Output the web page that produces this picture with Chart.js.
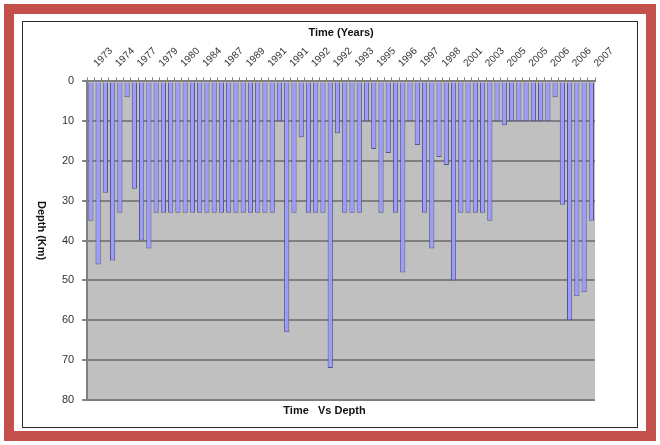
<!DOCTYPE html>
<html>
<head>
<meta charset="utf-8">
<script src="https://cdn.jsdelivr.net/npm/chart.js@4.4.0/dist/chart.umd.min.js"></script>
<style>
    html, body { margin: 0; padding: 0; background: #ffffff; }
    #page { position: relative; width: 660px; height: 445px; overflow: hidden; }
    #redFrame {
        position: absolute; left: 4px; top: 4px; width: 632px; height: 417px;
        border: 10px solid #c4504c;
    }
    #blackFrame {
        position: absolute; left: 22px; top: 21px; width: 614px; height: 405px;
        border: 1px solid #2a2a2a;
    }
    #chartBox { position: absolute; left: 0; top: 0; width: 660px; height: 445px; }
</style>
</head>
<body>
<div id="page">
    <div id="redFrame"></div>
    <div id="blackFrame"></div>
    <div id="chartBox"><canvas id="depthChart"></canvas></div>
</div>
<script>
// Year labels shown on the top axis (one every third event)
const tickYears = ['1973', '1974', '1977', '1979', '1980', '1984', '1987', '1989',
    '1991', '1991', '1992', '1992', '1993', '1995', '1996', '1997', '1998', '2001',
    '2003', '2005', '2005', '2006', '2006', '2007'];

// Depth of each event (Km)
const depths = [
    35, 46, 28, 45, 33, 4, 27, 40, 42, 33,
    33, 33, 33, 33, 33, 33, 33, 33, 33, 33,
    33, 33, 33, 33, 33, 33, 10, 63, 33, 14,
    33, 33, 33, 72, 13, 33, 33, 33, 10, 17,
    33, 18, 33, 48, 10, 16, 33, 42, 19, 21,
    50, 33, 33, 33, 33, 35, 10, 11, 10, 10,
    10, 10, 10, 10, 4, 31, 60, 54, 53, 35
];

const labelStep = 3;
const categories = depths.map((_, i) => (i % labelStep === 0 ? (tickYears[i / labelStep] || '') : ''));

// Gray plot background + vertical "Depth (Km)" title
const plotDecor = {
    id: 'plotDecor',
    beforeDraw(chart) {
        const { ctx, chartArea } = chart;
        ctx.save();
        ctx.fillStyle = '#c0c0c0';
        ctx.fillRect(chartArea.left, chartArea.top, chartArea.right - chartArea.left, chartArea.bottom - chartArea.top);
        ctx.restore();
    },
    afterDraw(chart) {
        const { ctx, chartArea } = chart;
        ctx.save();
        ctx.translate(41, (chartArea.top + chartArea.bottom) / 2 - 10);
        ctx.rotate(Math.PI / 2);
        ctx.font = 'bold 11px "Liberation Sans", Arial, sans-serif';
        ctx.fillStyle = '#111';
        ctx.textAlign = 'center';
        ctx.textBaseline = 'middle';
        ctx.fillText('Depth (Km)', 0, 0);
        ctx.restore();
    }
};

Chart.defaults.font.family = '"Liberation Sans", Arial, sans-serif';

const ctx = document.getElementById('depthChart').getContext('2d');
new Chart(ctx, {
    type: 'bar',
    data: {
        labels: categories,
        datasets: [{
            label: 'Depth',
            data: depths,
            backgroundColor: '#9c9cff',
            borderColor: '#55558a',
            borderWidth: 1,
            barPercentage: 0.72,
            categoryPercentage: 1.0
        }]
    },
    options: {
        responsive: true,
        maintainAspectRatio: false,
        animation: false,
        layout: {
            padding: { left: 54, right: 65, top: 26, bottom: 27 }
        },
        plugins: {
            legend: { display: false },
            tooltip: { enabled: false },
            title: {
                display: true,
                text: 'Time   Vs Depth',
                position: 'bottom',
                color: '#111',
                font: { size: 11, weight: 'bold' },
                padding: { top: 5, bottom: 0 }
            }
        },
        scales: {
            x: {
                position: 'top',
                grid: {
                    display: true,
                    drawOnChartArea: false,
                    tickLength: 4,
                    color: '#808080'
                },
                border: { display: true, color: '#808080', width: 1 },
                ticks: {
                    autoSkip: false,
                    minRotation: 45,
                    maxRotation: 45,
                    color: '#333',
                    font: { size: 10 },
                    padding: 8,
                    labelOffset: 13
                },
                title: {
                    display: true,
                    text: 'Time (Years)',
                    color: '#111',
                    font: { size: 11, weight: 'bold' },
                    padding: { top: 0, bottom: -2 }
                }
            },
            y: {
                reverse: true,
                min: 0,
                max: 80,
                ticks: {
                    stepSize: 10,
                    color: '#333',
                    font: { size: 11 },
                    padding: 8
                },
                grid: {
                    color: '#7f7f7f',
                    lineWidth: 2,
                    tickLength: 5
                },
                border: { display: true, color: '#7f7f7f', width: 2 }
            }
        }
    },
    plugins: [plotDecor]
});
</script>
</body>
</html>
